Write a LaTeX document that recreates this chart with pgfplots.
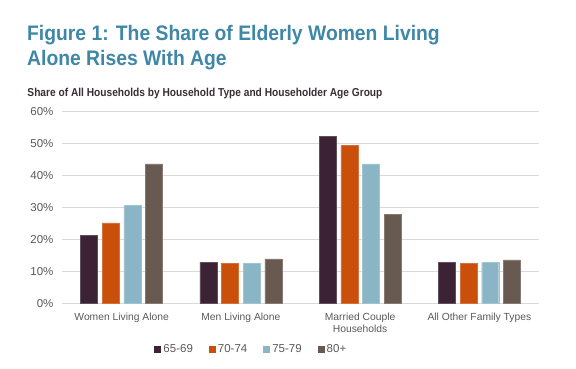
\documentclass[border=0pt]{standalone}
\usepackage{pgfplots}
\pgfplotsset{compat=1.18}
\usepackage{fontspec}
\setmainfont{Liberation Sans}
\definecolor{cA}{HTML}{3B2335}
\definecolor{cB}{HTML}{C94F0A}
\definecolor{cC}{HTML}{89B5C6}
\definecolor{cD}{HTML}{685A50}
\definecolor{titlec}{HTML}{3F87A6}
\definecolor{subc}{HTML}{3A2E35}
\definecolor{gridc}{HTML}{D9D9D9}
\definecolor{txt}{HTML}{595959}
\begin{document}
\begin{tikzpicture}[x=1pt,y=1pt]
\path[use as bounding box] (0,0) rectangle (576,368);
\node[anchor=base west, inner sep=0pt, xscale=0.92, text=titlec, font=\fontsize{21}{24}\selectfont\bfseries] at (27,327.3) {Figure 1: The Share of Elderly Women Living};
\node[anchor=base west, inner sep=0pt, xscale=0.92, text=titlec, font=\fontsize{21}{24}\selectfont\bfseries] at (27,303) {Alone Rises With Age};
\node[anchor=base west, inner sep=0pt, xscale=0.885, text=subc, font=\fontsize{11.5}{13}\selectfont\bfseries] at (27.3,271.3) {Share of All Households by Household Type and Householder Age Group};
\begin{axis}[
  at={(62pt,64.7pt)}, anchor=south west,
  scale only axis, width=477pt, height=192pt,
  ybar=4.7pt, bar width=17pt,
  xmin=-0.5, xmax=3.5, ymin=0, ymax=60,
  xtick={0,1,2,3},
  xticklabels={Women Living Alone, Men Living Alone, Married Couple\\Households, All Other Family Types},
  xticklabel style={align=center, font=\fontsize{10.3}{12.5}\selectfont, text=txt, yshift=-6pt},
  ytick={0,10,...,60},
  yticklabel={\pgfmathprintnumber{\tick}\%},
  yticklabel style={font=\fontsize{11.5}{12}\selectfont, text=txt, xshift=-5pt},
  /pgf/number format/assume math mode=true,
  major tick length=0pt,
  ymajorgrids, grid style={gridc, line width=0.9pt},
  axis x line*=bottom, axis y line*=left,
  x axis line style={gridc, line width=0.9pt},
  y axis line style={draw=none},
  tick align=outside,
  legend columns=4,
  legend style={at={(0.397,-0.238)}, anchor=center, draw=none, fill=none,
    font=\fontsize{11.5}{13}\selectfont, text=txt,
    /tikz/every even column/.append style={column sep=14pt}},
  legend image code/.code={\fill[#1, draw=none] (0pt,-3.5pt) rectangle (7pt,3.5pt);},
]
\addplot[fill=cA, draw=cA!80!white] coordinates {(0,21.3) (1,12.9) (2,52.1) (3,12.9)};
\addplot[fill=cB, draw=cB!80!white] coordinates {(0,25.1) (1,12.4) (2,49.3) (3,12.5)};
\addplot[fill=cC, draw=cC!80!white] coordinates {(0,30.6) (1,12.4) (2,43.6) (3,12.7)};
\addplot[fill=cD, draw=cD!80!white] coordinates {(0,43.6) (1,13.9) (2,27.8) (3,13.6)};
\legend{65-69,70-74,75-79,80+}
\end{axis}
\end{tikzpicture}
\end{document}
